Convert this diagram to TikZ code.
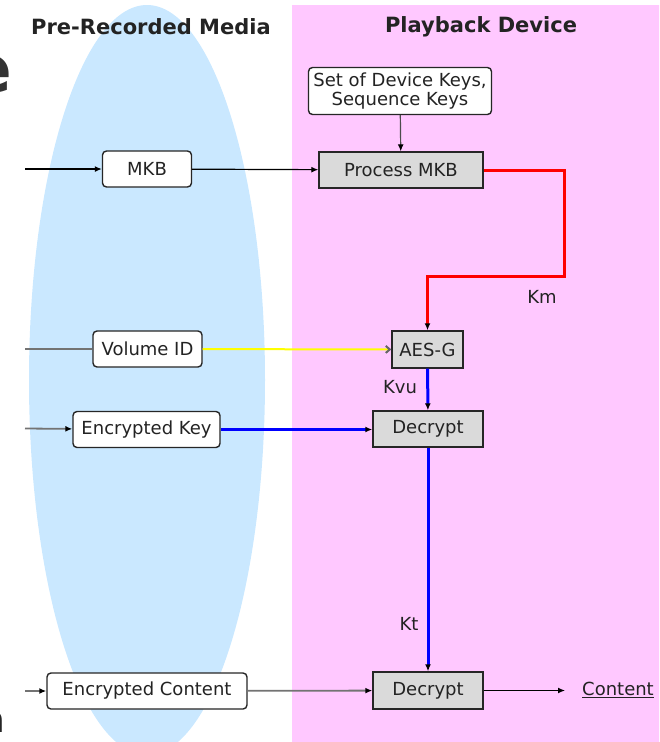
\documentclass[tikz,border=0pt]{standalone}
\usepackage{fontspec}
\setmainfont{DejaVu Sans}
\usetikzlibrary{arrows.meta,positioning,calc}
\definecolor{devpink}{RGB}{255,200,255}
\definecolor{mediablue}{RGB}{202,232,255}
\definecolor{boxgray}{RGB}{218,218,218}
\definecolor{txtgray}{RGB}{35,35,35}
\definecolor{wiregray}{RGB}{115,115,115}
\definecolor{kmred}{RGB}{255,0,0}
\definecolor{kblue}{RGB}{0,0,255}
\definecolor{vidyellow}{RGB}{255,255,0}

\tikzset{
  mediabox/.style={draw=black!85, line width=1.4pt, fill=white, rounded corners=4pt,
    minimum height=36pt, inner sep=0pt, text=txtgray, font=\fontsize{18}{21}\selectfont},
  procbox/.style={draw=black!85, line width=1.4pt, fill=boxgray,
    minimum height=37pt, inner sep=0pt, text=txtgray, font=\fontsize{18}{21}\selectfont},
  keylbl/.style={text=txtgray, inner sep=0pt, font=\fontsize{18}{21}\selectfont},
  header/.style={text=txtgray, inner sep=0pt, font=\fontsize{21}{24}\bfseries},
  arr/.style={-{Latex[length=7pt,width=6pt,color=black]}},
}

\begin{document}
\begin{tikzpicture}[x=1pt,y=-1pt]
  \useasboundingbox (0,0) rectangle (659,742);
  \clip (0,0) rectangle (659,742);

  % Media and device areas
  \fill[mediablue] (147,380) ellipse [x radius=118, y radius=375];
  \fill[devpink] (292,5) rectangle (670,760);

  % cut-off slide title
  \node[anchor=base east, inner sep=0pt, text=black!80, font=\fontsize{66}{66}\bfseries]
    (titleE) at (12,92) {e};
  \node[anchor=base east, inner sep=0pt, text=black!85, font=\fontsize{36}{36}\selectfont]
    (titleN) at (6,732) {n};

  \node[header] (mediaHead) at (151,27) {Pre-Recorded Media};
  \node[header] (devHead) at (481,27) {Playback Device};

  % Boxes on the disc
  \node[mediabox, minimum width=89pt] (mkb) at (147,169) {MKB};
  \node[mediabox, minimum width=109pt] (volID) at (147.5,349) {Volume ID};
  \node[mediabox, minimum width=147pt] (encKey) at (146.5,429.5) {Encrypted Key};
  \node[mediabox, minimum width=200pt] (encCont) at (147,691) {Encrypted Content};

  % Boxes in the player
  \node[mediabox, minimum width=183pt, minimum height=47pt, align=center,
    font=\fontsize{18}{19.5}\selectfont] (devKeys) at (400,91)
    {Set of Device Keys,\\Sequence Keys};
  \node[procbox, minimum width=164pt, minimum height=36pt] (procMKB) at (401,170) {Process MKB};
  \node[procbox, minimum width=71pt] (aesg) at (427.5,349.5) {AES-G};
  \node[procbox, minimum width=110pt, minimum height=36pt] (decKey) at (428,429) {Decrypt};
  \node[procbox, minimum width=110pt] (decCont) at (428,690.5) {Decrypt};

  \node[keylbl] (km) at (542,297) {Km};
  \node[keylbl] (kvu) at (400,387) {Kvu};
  \node[keylbl] (kt) at (409,624) {Kt};
  \node[keylbl] (content) at (618,690) {\underline{Content}};

  % free ends of the wires
  \coordinate (mkbIn) at (25,169);
  \coordinate (volIn) at (25,349);
  \coordinate (keyIn) at (25,428.5);
  \coordinate (contIn) at (25,691);
  \coordinate (kmTurn) at (564,276);
  \coordinate (contOut) at (565,690.5);

  % Wires
  \draw[arr, line width=1.2pt] (mkbIn) -- (mkb);
  \draw[wiregray, line width=1.8pt] (volIn) -- (volID);
  \draw[wiregray, line width=1.8pt, arr] (keyIn) -- (encKey);
  \draw[wiregray, line width=1.8pt, arr] (contIn) -- (encCont);

  \draw[arr, line width=1.2pt] (mkb) -- (procMKB);
  \draw[arr, black!70, line width=1.2pt] (devKeys) -- (procMKB);
  \draw[kmred, line width=3pt, -{Latex[length=7pt,width=6pt,color=black]}]
    (procMKB.east) -| (kmTurn) -| (aesg.north);
  \draw[vidyellow, line width=2pt, -{Straight Barb[length=4pt,width=7pt,color=black!60]}]
    (volID) -- (aesg);
  \draw[kblue, line width=3pt, -{Latex[length=7pt,width=6pt,color=black]}]
    (aesg) -- (decKey);
  \draw[kblue, line width=3pt, -{Latex[length=7pt,width=6pt,color=black]}]
    (encKey.east) -- (decKey.west |- encKey.east);
  \draw[kblue, line width=3pt, -{Latex[length=7pt,width=6pt,color=black]}]
    (decKey) -- (decCont);
  \draw[wiregray, line width=1.8pt, arr] (encCont) -- (decCont);
  \draw[arr, line width=1.2pt] (decCont) -- (contOut);
\end{tikzpicture}
\end{document}
